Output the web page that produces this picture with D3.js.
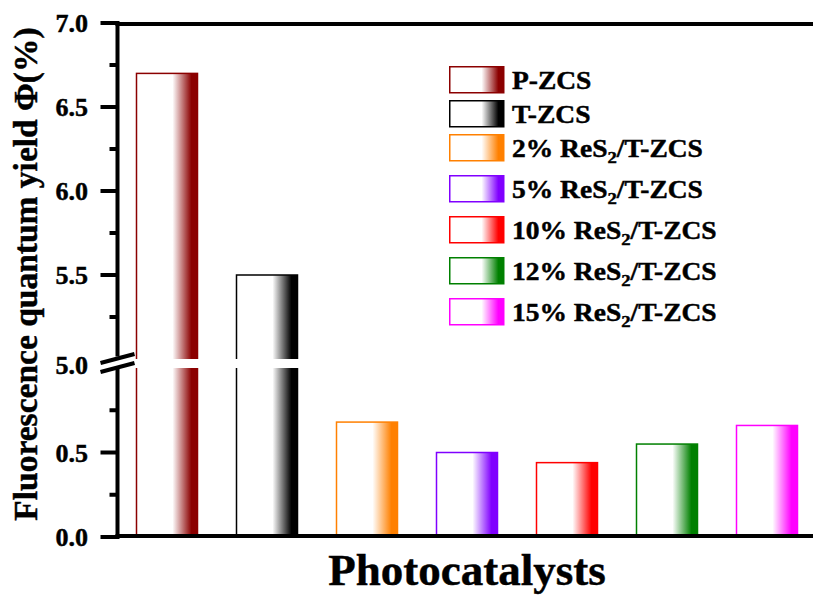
<!DOCTYPE html>
<html><head><meta charset="utf-8">
<script src="https://cdn.jsdelivr.net/npm/d3@7/dist/d3.min.js"></script>
<style>
html,body{margin:0;padding:0;background:#fff;}
svg{display:block;font-family:"Liberation Serif","Times New Roman",serif;font-weight:bold;}
svg text{stroke:#000;stroke-width:0.45px;}
</style></head>
<body>
<svg id="chart" width="813" height="597"></svg>
<script>
// ---- data ----
const categories = ["P-ZCS","T-ZCS","2% ReS2/T-ZCS","5% ReS2/T-ZCS","10% ReS2/T-ZCS","12% ReS2/T-ZCS","15% ReS2/T-ZCS"];
const values = [6.70, 5.50, 0.68, 0.50, 0.44, 0.55, 0.66];
const colors = ["#8B0000","#000000","#FF8000","#8000FF","#FF0000","#008000","#FF00FF"];
const legendPrefix = ["P-ZCS","T-ZCS","2% ReS","5% ReS","10% ReS","12% ReS","15% ReS"];
const legendSub = ["","","2","2","2","2","2"];
const legendSuffix = ["","","/T-ZCS","/T-ZCS","/T-ZCS","/T-ZCS","/T-ZCS"];
const upperTicks = [5.0,5.5,6.0,6.5,7.0];
const lowerTicks = [0.0,0.5];
const upperMinor = [5.25,5.75,6.25,6.75];
const lowerMinor = [0.25,0.75];
const yTitle = "Fluorescence quantum yield \u03A6(%)";
const xTitle = "Photocatalysts";

// ---- layout ----
const svg = d3.select("#chart");
const axisX = 117.5, plotRight = 813;
const yU = d3.scaleLinear().domain([5,7]).range([359,23]);
const yL = d3.scaleLinear().domain([0,1]).range([537,368]);
const x = d3.scaleBand().domain(categories).range([117,817]).paddingInner(0.39).paddingOuter(0.195);
const yv = v => v > 5 ? yU(v) : yL(v);

const defs = svg.append("defs");
colors.forEach((c,i)=>{
  const g = defs.append("linearGradient").attr("id","grad"+i).attr("x1","0").attr("x2","1").attr("y1","0").attr("y2","0");
  g.append("stop").attr("offset","0").attr("stop-color","#fff");
  g.append("stop").attr("offset","0.59").attr("stop-color","#fff");
  g.append("stop").attr("offset","0.90").attr("stop-color",c);
  g.append("stop").attr("offset","1").attr("stop-color",c);
});

// bars
svg.append("g").selectAll("rect").data(values).join("rect")
  .attr("x",(d,i)=>x(categories[i]))
  .attr("width",x.bandwidth())
  .attr("y",d=>yv(d))
  .attr("height",d=>yL(0)-yv(d))
  .attr("fill",(d,i)=>`url(#grad${i})`)
  .attr("stroke",(d,i)=>colors[i])
  .attr("stroke-width",1.5);

// break gap
svg.append("rect").attr("x",axisX+2).attr("y",yU(5)).attr("width",plotRight-axisX).attr("height",yL(1)-yU(5)).attr("fill","#fff");

// axes lines
const ax = svg.append("g").attr("stroke","#000").attr("stroke-width",4).attr("fill","none");
ax.append("line").attr("x1",axisX).attr("x2",axisX).attr("y1",yU(7)-2).attr("y2",yU(5));
ax.append("line").attr("x1",axisX).attr("x2",axisX).attr("y1",yL(1)).attr("y2",yL(0)+2);
ax.append("line").attr("x1",axisX-2).attr("x2",plotRight).attr("y1",yU(7)+1).attr("y2",yU(7)+1);
ax.append("line").attr("x1",axisX-2).attr("x2",plotRight).attr("y1",yL(0)-1).attr("y2",yL(0)-1);
// ticks
const majors = upperTicks.map(v=>({v,y:yU(v)})).concat(lowerTicks.map(v=>({v,y:yL(v)})));
const minors = upperMinor.map(v=>yU(v)).concat(lowerMinor.map(v=>yL(v)));
majors.forEach(t=>{ if(t.v!==5) ax.append("line").attr("x1",axisX-17).attr("x2",axisX).attr("y1",t.y).attr("y2",t.y); });
minors.forEach(y=>ax.append("line").attr("x1",axisX-8).attr("x2",axisX).attr("y1",y).attr("y2",y));

// break symbol
const bk = svg.append("g");
const by = (yU(5)+yL(1))/2;
bk.append("rect").attr("x",axisX-3).attr("y",by-7).attr("width",6).attr("height",12).attr("fill","#fff");
[-4.5,4.5].forEach(o=>{
  bk.append("line").attr("x1",axisX-17).attr("y1",by+o+4).attr("x2",axisX+17).attr("y2",by+o-5)
    .attr("stroke","#000").attr("stroke-width",4);
});

// tick labels
svg.append("g").selectAll("text").data(majors).join("text")
  .attr("x",88).attr("y",d=>d.v===5? by+1 : d.y).attr("dy","0.35em")
  .attr("text-anchor","end").attr("font-size",26)
  .text(d=>d.v.toFixed(1));

// titles
svg.append("text").attr("transform","translate(37,274) rotate(-90)")
  .attr("text-anchor","middle").attr("font-size",33.5).text(yTitle);
svg.append("text").attr("x",467).attr("y",585).attr("text-anchor","middle")
  .attr("font-size",45).text(xTitle);

// legend
let ly = 66;
const lg = svg.append("g");
categories.forEach((c,i)=>{
  const g = lg.append("g").attr("transform",`translate(449,${ly})`);
  g.append("rect").attr("x",0.75).attr("y",0.75).attr("width",54).attr("height",26)
    .attr("fill",`url(#grad${i})`).attr("stroke",colors[i]).attr("stroke-width",1.5);
  const t = g.append("text").attr("transform","translate(63,23) scale(1.1,1)").attr("font-size",25);
  t.append("tspan").text(legendPrefix[i]);
  if(legendSub[i]){
    t.append("tspan").attr("font-size",17).attr("dy",6).text(legendSub[i]);
    t.append("tspan").attr("dy",-6).text(legendSuffix[i]);
  }
  ly += 34 + (legendSub[i] ? 7 : 0);
});
</script>
</body></html>
